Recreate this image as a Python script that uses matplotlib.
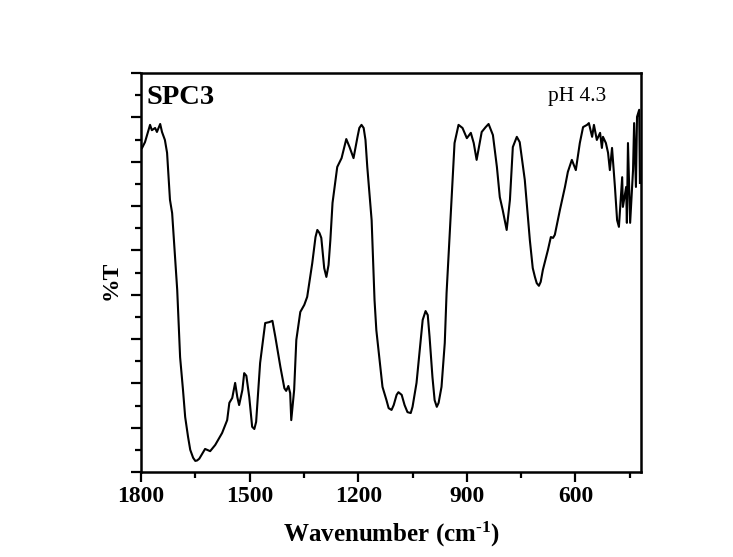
import matplotlib
matplotlib.use("Agg")
import matplotlib.pyplot as plt
from matplotlib.ticker import MultipleLocator, NullFormatter

# --- data ---
wavenumber = [1797, 1789, 1775, 1770, 1761, 1756, 1747, 1742, 1734, 1728,
              1720, 1714, 1700, 1692, 1684, 1678, 1670, 1664, 1656, 1650,
              1645, 1639, 1623, 1609, 1595, 1576, 1562, 1556, 1548, 1540,
              1534, 1529, 1520, 1515, 1509, 1501, 1493, 1487, 1482, 1471,
              1457, 1446, 1437, 1429, 1415, 1404, 1399, 1393, 1388, 1385,
              1377, 1371, 1360, 1349, 1341, 1327, 1318, 1313, 1307, 1302,
              1294, 1288, 1282, 1277, 1271, 1258, 1246, 1233, 1224, 1213,
              1202, 1197, 1191, 1185, 1180, 1175, 1163, 1155, 1150, 1141,
              1133, 1122, 1116, 1108, 1102, 1094, 1089, 1080, 1072, 1064,
              1055, 1050, 1039, 1031, 1022, 1014, 1008, 1003, 995, 989,
              983, 978, 970, 961, 956, 942, 934, 923, 912, 900,
              889, 881, 873, 859, 848, 840, 828, 817, 809, 801,
              790, 781, 773, 762, 754, 740, 726, 718, 712, 707,
              701, 696, 690, 676, 668, 662, 657, 643, 629, 621,
              610, 599, 588, 579, 568, 563, 554, 549, 541, 532,
              527, 524, 516, 510, 505, 499, 491, 485, 480, 471,
              469, 460, 458, 455, 449, 441, 438, 433, 430, 424,
              422]
transmittance = [73.1, 74.4, 78.3, 77.1, 77.6, 76.7, 78.5, 76.7, 74.9, 72.0,
                 61.4, 58.4, 41.1, 25.9, 18.5, 12.4, 7.9, 5.0, 3.2, 2.5,
                 2.6, 3.0, 5.2, 4.7, 6.1, 8.8, 11.7, 15.6, 16.7, 20.1,
                 16.9, 15.1, 18.5, 22.3, 21.7, 16.9, 10.2, 9.7, 11.3, 24.6,
                 33.6, 33.8, 34.1, 30.5, 23.7, 18.9, 18.3, 19.4, 17.8, 11.7,
                 18.5, 29.8, 36.1, 37.7, 39.5, 47.1, 53.0, 54.6, 53.9, 52.8,
                 46.0, 44.0, 46.7, 52.3, 60.7, 68.8, 70.8, 75.1, 73.3, 70.8,
                 75.6, 77.6, 78.3, 77.6, 74.9, 68.8, 56.8, 38.8, 32.0, 25.3,
                 19.2, 16.2, 14.4, 14.0, 15.1, 17.4, 18.0, 17.4, 15.1, 13.5,
                 13.3, 14.7, 20.1, 26.8, 34.3, 36.3, 35.4, 30.5, 21.4, 16.2,
                 14.7, 15.6, 19.2, 29.1, 40.4, 62.0, 74.2, 78.3, 77.6, 75.3,
                 76.5, 74.2, 70.4, 76.7, 77.8, 78.5, 76.0, 68.8, 62.0, 59.1,
                 54.6, 61.4, 73.3, 75.6, 74.4, 65.9, 52.3, 46.0, 44.0, 42.6,
                 42.0, 42.9, 45.6, 50.1, 53.0, 52.8, 53.5, 59.1, 64.3, 67.7,
                 70.4, 68.1, 74.2, 77.8, 78.3, 78.7, 75.6, 78.3, 74.9, 76.5,
                 73.1, 75.6, 74.2, 72.0, 68.1, 73.1, 64.3, 56.8, 55.3, 66.5,
                 59.8, 64.3, 56.2, 74.2, 56.2, 68.1, 78.7, 64.3, 80.1, 81.7,
                 65.2]

xticks_major = [1800, 1500, 1200, 900, 600]
sample_label = "SPC3"
condition_label = "pH 4.3"
x_label = r"Wavenumber (cm$^{\text{-1}}$)"
y_label = "%T"

plt.rcParams['font.family'] = ['Liberation Serif', 'DejaVu Serif']
plt.rcParams['mathtext.fontset'] = 'custom'
plt.rcParams['mathtext.rm'] = 'Liberation Serif:bold'
plt.rcParams['mathtext.it'] = 'Liberation Serif:bold'
plt.rcParams['mathtext.bf'] = 'Liberation Serif:bold'
plt.rcParams['mathtext.default'] = 'rm'

W, H = 733, 557
fig = plt.figure(figsize=(W / 100, H / 100), dpi=100)
fig.patch.set_facecolor('white')
ax = fig.add_axes([141 / W, 1 - 472 / H, 500 / W, 399 / H])

ax.plot(wavenumber, transmittance, color='black', lw=1.5,
        solid_joinstyle='round')

ax.set_xlim(1800, 419)
ax.set_ylim(0, 90)

ax.set_xticks(xticks_major)
ax.set_xticklabels([str(t) for t in xticks_major])
ax.xaxis.set_minor_locator(MultipleLocator(150))
ax.yaxis.set_major_locator(MultipleLocator(10))
ax.yaxis.set_minor_locator(MultipleLocator(5))
ax.yaxis.set_major_formatter(NullFormatter())

ax.tick_params(axis='both', which='both', direction='out', width=1.6,
               top=False, right=False)
ax.tick_params(axis='both', which='major', length=7)
ax.tick_params(axis='both', which='minor', length=4.5)
ax.tick_params(axis='x', which='major', labelsize=17, pad=3)
for lab in ax.get_xticklabels():
    lab.set_fontweight('bold')

for sp in ax.spines.values():
    sp.set_linewidth(1.8)

ax.set_xlabel(x_label, fontsize=18, fontweight='bold', labelpad=9)
ax.set_ylabel(y_label, fontsize=17, fontweight='bold')
ax.yaxis.set_label_coords(-0.06, 0.48)
ax.yaxis.label.set_verticalalignment('center')

ax.text(0.01, 0.97, sample_label, transform=ax.transAxes, fontsize=20.5,
        fontweight='bold', ha='left', va='top')
ax.text(0.872, 0.965, condition_label, transform=ax.transAxes, fontsize=15.5,
        ha='center', va='top')

fig.savefig('out.png', dpi=100, facecolor='white')
